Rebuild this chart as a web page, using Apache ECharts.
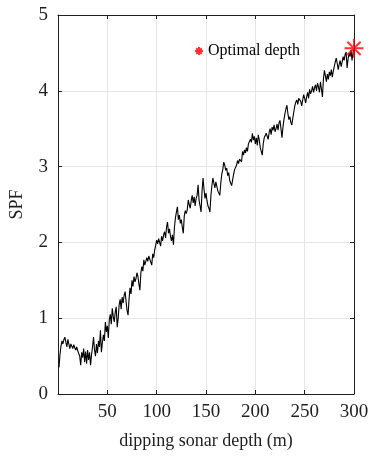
<!DOCTYPE html>
<html>
<head>
<meta charset="utf-8">
<script src="https://cdn.jsdelivr.net/npm/echarts@6/dist/echarts.min.js"></script>
<style>
  html, body { margin: 0; padding: 0; background: #fff; }
  #chart { width: 374px; height: 459px; }
</style>
</head>
<body>
<div id="chart"></div>
<script>
// SPF versus dipping sonar depth, sampled every metre from 1 to 300 m
const spf = [
  0.35, 0.52, 0.63, 0.70, 0.66, 0.72, 0.75, 0.68, 0.62, 0.72,
  0.74, 0.60, 0.66, 0.63, 0.60, 0.65, 0.61, 0.58, 0.62, 0.57,
  0.58, 0.50, 0.38, 0.55, 0.48, 0.60, 0.42, 0.56, 0.40, 0.58,
  0.45, 0.55, 0.38, 0.52, 0.62, 0.75, 0.58, 0.50, 0.66, 0.54,
  0.70, 0.62, 0.84, 0.55, 0.68, 0.78, 0.70, 0.95, 0.82, 0.90,
  0.74, 0.98, 1.05, 0.92, 1.13, 1.02, 0.95, 1.08, 1.15, 0.88,
  1.00, 1.18, 1.25, 1.12, 1.28, 1.20, 1.30, 1.35, 1.22, 1.10,
  1.04, 1.25, 1.40, 1.32, 1.50, 1.42, 1.55, 1.48, 1.52, 1.60,
  1.55, 1.45, 1.37, 1.60, 1.68, 1.62, 1.77, 1.70, 1.72, 1.80,
  1.75, 1.82, 1.78, 1.74, 1.70, 1.85, 1.80, 1.90, 1.96, 2.03,
  1.98, 2.05, 2.00, 1.95, 2.08, 2.02, 2.10, 2.14, 2.06, 2.20,
  2.27, 2.12, 2.18, 2.08, 2.02, 2.10, 1.97, 2.20, 2.32, 2.40,
  2.47, 2.30, 2.36, 2.25, 2.30, 2.20, 2.12, 2.35, 2.42, 2.38,
  2.43, 2.56, 2.50, 2.45, 2.55, 2.62, 2.52, 2.60, 2.48, 2.58,
  2.62, 2.76, 2.55, 2.48, 2.40, 2.68, 2.85, 2.70, 2.58, 2.65,
  2.55, 2.48, 2.45, 2.40, 2.62, 2.75, 2.85, 2.78, 2.72, 2.80,
  2.74, 2.68, 2.65, 2.62, 2.78, 2.90, 2.96, 3.06, 3.02, 2.95,
  2.98, 2.88, 2.92, 2.82, 2.78, 2.75, 2.73, 2.90, 2.96, 2.98,
  3.02, 3.08, 3.04, 3.10, 3.12, 3.06, 3.20, 3.15, 3.22, 3.18,
  3.25, 3.20, 3.30, 3.28, 3.36, 3.32, 3.44, 3.35, 3.40, 3.30,
  3.38, 3.28, 3.42, 3.35, 3.25, 3.20, 3.15, 3.30, 3.38, 3.36,
  3.44, 3.40, 3.36, 3.45, 3.50, 3.42, 3.52, 3.48, 3.55, 3.46,
  3.50, 3.56, 3.48, 3.58, 3.61, 3.50, 3.38, 3.52, 3.62, 3.70,
  3.76, 3.81, 3.70, 3.62, 3.66, 3.58, 3.55, 3.64, 3.72, 3.80,
  3.85, 3.88, 3.82, 3.90, 3.92, 3.86, 3.80, 3.88, 3.95, 3.90,
  3.84, 3.92, 3.98, 3.90, 4.02, 3.96, 4.00, 4.06, 3.98, 4.04,
  4.08, 4.00, 4.10, 4.05, 3.98, 4.12, 4.02, 3.92, 4.15, 4.27,
  4.20, 4.12, 4.22, 4.15, 4.25, 4.20, 4.28, 4.18, 4.26, 4.32,
  4.38, 4.43, 4.36, 4.28, 4.35, 4.40, 4.32, 4.38, 4.45, 4.40,
  4.48, 4.51, 4.30, 4.42, 4.50, 4.45, 4.54, 4.40, 4.50, 4.56
];
const depths = spf.map((_, i) => i + 1);

// Optimal depth marker (the peak of the curve)
const optimalDepth = [300];
const optimalSpf = [4.56];

const xTicks = [50, 100, 150, 200, 250, 300];
const yTicks = [0, 1, 2, 3, 4, 5];

const FONT = '"Liberation Serif", "Times New Roman", serif';
const INK = '#1f1f1f';
const GRID = '#e6e6e6';
const ASTERISK = 'path://M0,10 L20,10 M10,0 L10,20 M3,3 L17,17 M17,3 L3,17';

const chart = echarts.init(document.getElementById('chart'), null, { renderer: 'canvas' });

const xBase = {
  type: 'value', min: 0, max: 300, interval: 50,
  axisLine: { show: true, onZero: false, lineStyle: { color: INK, width: 1 } },
  axisTick: { show: true, inside: true, length: 4, lineStyle: { color: INK } }
};
const yBase = {
  type: 'value', min: 0, max: 5, interval: 1,
  axisLine: { show: true, onZero: false, lineStyle: { color: INK, width: 1 } },
  axisTick: { show: true, inside: true, length: 4, lineStyle: { color: INK } }
};

chart.setOption({
  animation: false,
  backgroundColor: '#fff',
  grid: { left: 58, right: 20, top: 15, bottom: 65, containLabel: false },
  legend: {
    show: true,
    data: [{ name: 'Optimal depth', icon: ASTERISK }],
    left: 189, top: 38,
    itemWidth: 8, itemHeight: 8, itemGap: 4,
    textStyle: { fontFamily: FONT, fontSize: 16, color: '#000' }
  },
  xAxis: [
    Object.assign({}, xBase, {
      position: 'bottom',
      name: 'dipping sonar depth (m)', nameLocation: 'middle', nameGap: 38,
      nameTextStyle: { fontFamily: FONT, fontSize: 18, color: INK },
      axisLabel: {
        fontFamily: FONT, fontSize: 19, color: INK, margin: 9,
        formatter: v => (xTicks.includes(v) ? String(v) : '')
      },
      splitLine: { show: true, lineStyle: { color: GRID, width: 1 } }
    }),
    Object.assign({}, xBase, {
      position: 'top',
      axisLabel: { show: false },
      splitLine: { show: false }
    })
  ],
  yAxis: [
    Object.assign({}, yBase, {
      position: 'left',
      name: 'SPF', nameLocation: 'middle', nameGap: 32,
      nameTextStyle: { fontFamily: FONT, fontSize: 18, color: INK },
      axisLabel: {
        fontFamily: FONT, fontSize: 19, color: INK, margin: 10,
        formatter: v => (yTicks.includes(v) ? String(v) : '')
      },
      splitLine: { show: true, lineStyle: { color: GRID, width: 1 } }
    }),
    Object.assign({}, yBase, {
      position: 'right',
      axisLabel: { show: false },
      splitLine: { show: false }
    })
  ],
  series: [
    {
      name: 'SPF',
      type: 'line',
      data: depths.map((d, i) => [d, spf[i]]),
      showSymbol: false,
      symbol: 'none',
      lineStyle: { color: '#000', width: 1.1 },
      z: 3
    },
    {
      name: 'Optimal depth',
      type: 'scatter',
      data: optimalDepth.map((d, i) => [d, optimalSpf[i]]),
      symbol: ASTERISK,
      symbolSize: 19,
      itemStyle: { color: 'rgba(0,0,0,0)', borderColor: '#ff0000', borderWidth: 2 },
      z: 5
    }
  ]
});
</script>
</body>
</html>
